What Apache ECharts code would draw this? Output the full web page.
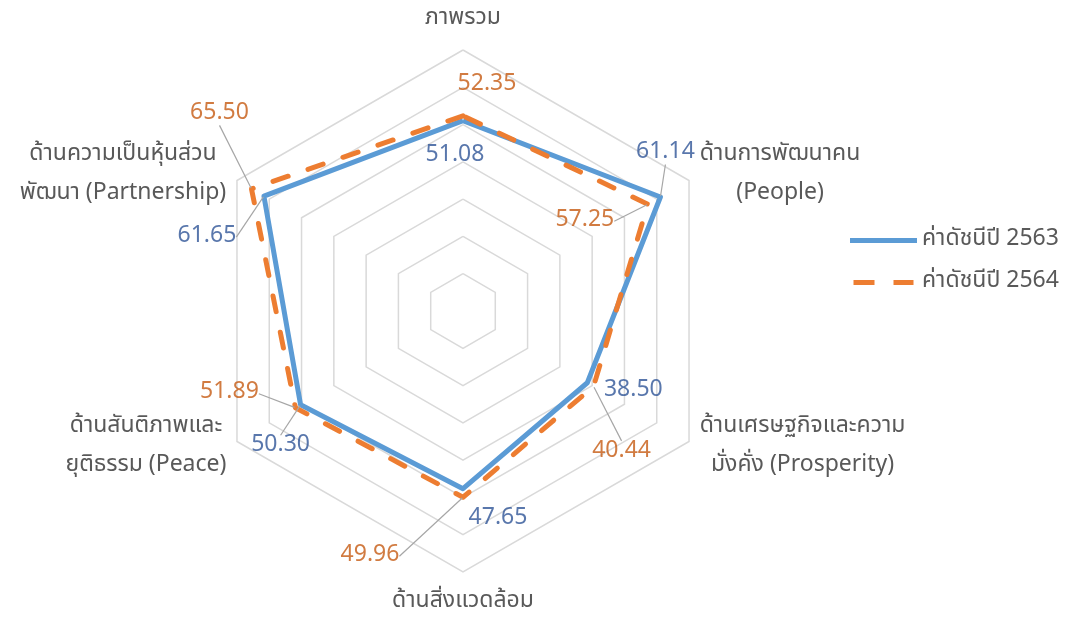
<!DOCTYPE html>
<html>
<head>
<meta charset="utf-8">
<script src="https://cdn.jsdelivr.net/npm/echarts@6/dist/echarts.min.js"></script>
<style>
  html, body { margin: 0; padding: 0; background: #fff; }
  #chart { width: 1070px; height: 620px; }
</style>
</head>
<body>
<div id="chart"></div>
<script>
// แกนเรียงทวนเข็มนาฬิกาเริ่มจากด้านบน (ลำดับที่ ECharts radar วาด)
const categories = [
  'ภาพรวม',
  'ด้านความเป็นหุ้นส่วน\nพัฒนา (Partnership)',
  'ด้านสันติภาพและ\nยุติธรรม (Peace)',
  'ด้านสิ่งแวดล้อม',
  'ด้านเศรษฐกิจและความ\nมั่งคั่ง (Prosperity)',
  'ด้านการพัฒนาคน\n(People)'
]
const seriesNames = ['ค่าดัชนีปี 2563', 'ค่าดัชนีปี 2564']
const values2563 = [51.08, 61.65, 50.30, 47.65, 38.50, 61.14]
const values2564 = [52.35, 65.50, 51.89, 49.96, 40.44, 57.25]
const axisMax = 70

const FONT = '"Noto Sans Thai", "Noto Sans", "DejaVu Sans", sans-serif'
const CENTER = [463, 311]
const RADIUS = 261

// ตำแหน่งป้ายตัวเลข (เลื่อนจากจุด) และเส้นชี้
const offs2563 = [[-8, 36], [-57, 41], [-20, 42], [35, 31], [46, 9], [5, -44]]
const line2563 = [false, true, true, false, false, true]
const offs2564 = [[24, -30], [-32, -75], [-66, -14], [-93, 59], [28, 66], [-63, 17]]
const line2564 = [false, true, true, true, true, true]

// ให้ข้อความหลายบรรทัดจัดกึ่งกลางแต่ละบรรทัด
const ctx = document.createElement('canvas').getContext('2d')
ctx.font = '23px ' + FONT
const nameRich = {}
function centeredName(name) {
  const idx = categories.indexOf(name)
  const lines = name.split('\n')
  const w = Math.ceil(Math.max(...lines.map(l => ctx.measureText(l).width))) + 2
  nameRich['n' + idx] = { width: w, align: 'center', fontSize: 23, fontFamily: FONT, color: '#595959', lineHeight: 39 }
  return lines.map(l => '{n' + idx + '|' + l + '}').join('\n')
}
categories.forEach(c => centeredName(c))

function labelSeries(name, values, offs, lines, color) {
  return {
    name: name + ' ',
    type: 'scatter',
    coordinateSystem: 'polar',
    symbolSize: 2,
    itemStyle: { color: 'rgba(0,0,0,0)' },
    silent: true,
    z: 5,
    data: values.map((v, i) => ({
      value: [v, categories[i]],
      labelLine: { show: lines[i] }
    })),
    label: {
      show: true,
      position: 'inside',
      formatter: p => p.value[0].toFixed(2),
      color: color,
      fontSize: 23,
      fontFamily: FONT
    },
    labelLine: { lineStyle: { color: '#A6A6A6', width: 1.2 } },
    labelLayout: p => ({ dx: offs[p.dataIndex][0], dy: offs[p.dataIndex][1] })
  }
}

const myChart = echarts.init(document.getElementById('chart'))
myChart.setOption({
  animation: false,
  textStyle: { fontFamily: FONT },
  legend: {
    orient: 'vertical',
    left: 845,
    top: 224,
    itemWidth: 67,
    itemHeight: 5,
    itemGap: 19,
    textStyle: { color: '#595959', fontSize: 23, fontFamily: FONT },
    data: [
      { name: seriesNames[0], icon: 'path://M0,0H67V5H0Z', itemStyle: { color: '#5B9BD5' } },
      { name: seriesNames[1], icon: 'path://M0,0H21V5H0Z M40,0H60V5H40Z', itemStyle: { color: '#ED7D31' } }
    ]
  },
  radar: {
    center: CENTER,
    radius: RADIUS,
    startAngle: 90,
    shape: 'polygon',
    splitNumber: 7,
    nameGap: 11,
    indicator: categories.map(c => ({ name: c, min: 0, max: axisMax })),
    axisName: {
      formatter: n => centeredName(n),
      rich: nameRich,
      color: '#595959',
      fontSize: 23,
      fontFamily: FONT
    },
    axisLine: { show: false },
    axisTick: { show: false },
    axisLabel: { show: false },
    splitArea: { show: false },
    splitLine: { lineStyle: { color: '#D9D9D9', width: 1.5 } }
  },
  polar: { center: CENTER, radius: RADIUS },
  angleAxis: {
    type: 'category',
    data: categories,
    boundaryGap: false,
    startAngle: 90,
    clockwise: false,
    show: false
  },
  radiusAxis: { min: 0, max: axisMax, show: false },
  series: [
    {
      type: 'radar',
      symbol: 'none',
      z: 2,
      data: [
        {
          name: seriesNames[0],
          value: values2563,
          lineStyle: { color: '#5B9BD5', width: 5, join: 'round' },
          itemStyle: { color: '#5B9BD5' }
        },
        {
          name: seriesNames[1],
          value: values2564,
          lineStyle: { color: '#ED7D31', width: 5, type: [16, 21], cap: 'round', join: 'round' },
          itemStyle: { color: '#ED7D31' }
        }
      ]
    },
    labelSeries(seriesNames[0], values2563, offs2563, line2563, '#2F5597'),
    labelSeries(seriesNames[1], values2564, offs2564, line2564, '#C55A11')
  ]
})
</script>
</body>
</html>
